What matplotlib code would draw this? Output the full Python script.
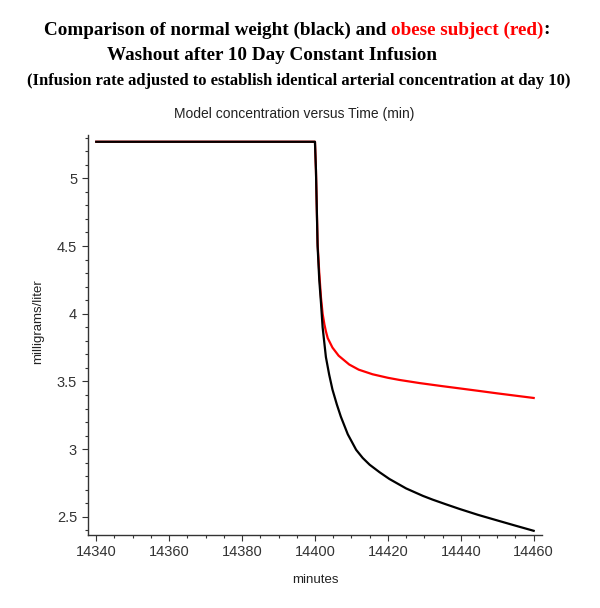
import matplotlib
matplotlib.use("Agg")
import matplotlib.pyplot as plt
from matplotlib.ticker import MultipleLocator

# time after the end of the infusion (min)
t_step = 14400
t_start = 14340
t_end = 14460
c_plateau = 5.27

black_dt = [0, 0.27, 0.72, 1.18, 1.65, 2.1, 3.0, 3.9, 4.8, 6.0, 7.1, 9.0, 11.3, 13.1, 15.0,
            17.7, 20.4, 25.0, 29.6, 32.3, 36.0, 39.7, 44.7, 49.7, 55.0, 60.0]
black_c = [5.27, 5.06, 4.50, 4.25, 4.08, 3.90, 3.68, 3.55, 3.44, 3.33, 3.24, 3.11, 2.995, 2.935, 2.885,
           2.83, 2.78, 2.71, 2.655, 2.627, 2.592, 2.558, 2.515, 2.476, 2.435, 2.397]

red_dt = [0, 0.27, 0.72, 1.18, 1.65, 2.1, 2.6, 3.0, 3.5, 4.8, 6.5, 9.4, 12.0, 15.8,
          20.0, 23.2, 28.7, 35.0, 39.6, 45.0, 50.0, 55.0, 60.0]
red_c = [5.27, 5.06, 4.52, 4.30, 4.12, 4.00, 3.92, 3.87, 3.82, 3.75, 3.69, 3.625, 3.587, 3.553,
         3.527, 3.511, 3.488, 3.465, 3.449, 3.43, 3.412, 3.395, 3.378]

# build full curves: plateau from t_start to the step, then washout
black_t = [t_start] + [t_step + d for d in black_dt]
black_y = [c_plateau] + black_c
red_t = [t_start] + [t_step + d for d in red_dt]
red_y = [c_plateau] + red_c

fig = plt.figure(figsize=(6.0, 6.08), dpi=100)
W, H = 600, 608
ax = fig.add_axes([87.5 / W, 1 - 535 / H, (541.7 - 87.5) / W, (535 - 135) / H])

ax.plot(red_t, red_y, color="red", lw=1.6)
ax.plot(black_t, black_y, color="black", lw=1.6)

ax.set_xlim(14337.6, 14462.2)
ax.set_ylim(2.366, 5.32)
ax.xaxis.set_major_locator(MultipleLocator(20))
ax.xaxis.set_minor_locator(MultipleLocator(5))
ax.yaxis.set_major_locator(MultipleLocator(0.5))
ax.yaxis.set_minor_locator(MultipleLocator(0.1))
ax.yaxis.set_major_formatter(matplotlib.ticker.FuncFormatter(lambda v, p: f"{v:g}"))
ax.xaxis.set_major_formatter(matplotlib.ticker.FuncFormatter(lambda v, p: f"{v:.0f}"))

for s in ["top", "right"]:
    ax.spines[s].set_visible(False)
for s in ["left", "bottom"]:
    ax.spines[s].set_color("#333333")
    ax.spines[s].set_linewidth(1.0)

ax.tick_params(which="major", direction="out", length=4, width=0.8, colors="#333333",
               labelsize=10.5, labelcolor="#333333")
ax.tick_params(which="minor", direction="out", length=2.5, width=0.8, colors="#333333")
for lab in ax.get_xticklabels() + ax.get_yticklabels():
    lab.set_family("Liberation Sans")

fig.text(315 / W, 1 - 580 / H, "minutes", ha="center", va="center",
         fontsize=9.5, family="Liberation Sans", color="#222222")
fig.text(38 / W, 1 - 322 / H, "milligrams/liter", ha="center", va="center",
         rotation=90, fontsize=9.5, family="Liberation Sans", color="#222222")
fig.text(294 / W, 1 - 114 / H, "Model concentration versus Time (min)", ha="center",
         va="center", fontsize=10, family="Liberation Sans", color="#222222")

# header lines, first one in two colours
tfont = dict(family="Liberation Serif", weight="bold", fontsize=13.8)
r = fig.canvas.get_renderer()
parts = [("Comparison of normal weight (black) and ", "black"),
         ("obese subject (red)", "red"),
         (":", "black")]
x = 44
for txt, col in parts:
    t = fig.text(x / W, 1 - 30 / H, txt, ha="left", va="center", color=col, **tfont)
    bb = t.get_window_extent(renderer=r)
    x += bb.width
fig.text(272 / W, 1 - 55 / H, "Washout after 10 Day Constant Infusion",
         ha="center", va="center", color="black", **tfont)
fig.text(299 / W, 1 - 81 / H,
         "(Infusion rate adjusted to establish identical arterial concentration at day 10)",
         ha="center", va="center", color="black", family="Liberation Serif",
         weight="bold", fontsize=12)

fig.savefig("out.png", dpi=100)
